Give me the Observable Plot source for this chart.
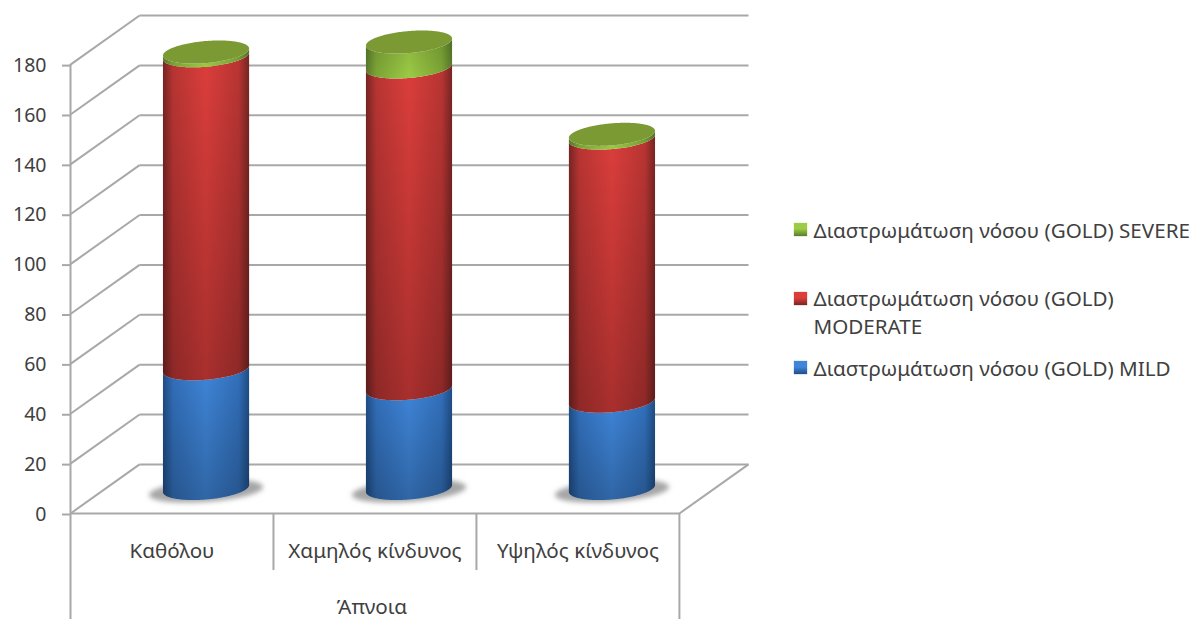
<!DOCTYPE html>
<html>
<head>
<meta charset="utf-8">
<script src="https://cdn.jsdelivr.net/npm/d3@7"></script>
<script src="https://cdn.jsdelivr.net/npm/@observablehq/plot@0.6"></script>
<style>
  html, body { margin: 0; padding: 0; background: #fff; overflow: hidden; }
  svg { display: block; }
</style>
</head>
<body>
<div id="chart"></div>
<script>
// Stacked cylinders by risk group, all under the shared "Άπνοια" heading.
const categories = ["Καθόλου", "Χαμηλός κίνδυνος", "Υψηλός κίνδυνος"];
const groupLabel = "Άπνοια";
const mild = [48, 40, 35];
const moderate = [125.5, 129, 105.5];
const severe = [1.5, 10, 1.5];
const yTicks = [0, 20, 40, 60, 80, 100, 120, 140, 160, 180];
const legendLabels = [
  "Διαστρωμάτωση νόσου (GOLD) SEVERE",
  "Διαστρωμάτωση νόσου (GOLD)\nMODERATE",
  "Διαστρωμάτωση νόσου (GOLD) MILD"
];

// Oblique projection: one unit of depth shifts a point right and up.
const depthX = 0.3404;
const depthY = 19.69;
const px = (i, depth = 0) => i + depth * depthX;
const py = (v, depth = 0) => v + depth * depthY;

// Cylinder proportions in scale units; the ellipses tilt up to the right.
const radiusX = 0.2122, radiusY = 4.42, tilt = 1.4;
const shadowX = 0.281, shadowY = 4.4, shadowTilt = 1.6;
const sweep = d3.range(0, 97).map(k => (k / 96) * Math.PI);

const frontEdge = (c, v, rx = radiusX, ry = radiusY, sk = tilt) => sweep.map(t => ({
  x: px(c + 0.5 + rx * Math.cos(t), 0.5),
  y: py(v - ry * Math.sin(t) + sk * Math.cos(t), 0.5)
}));
const backEdge = (c, v, rx = radiusX, ry = radiusY, sk = tilt) => sweep.map(t => ({
  x: px(c + 0.5 + rx * Math.cos(t), 0.5),
  y: py(v + ry * Math.sin(t) + sk * Math.cos(t), 0.5)
}));

// A closed ellipse as a filled band between its two halves.
function ellipseMark(c, v, options, rx, ry, sk) {
  const low = frontEdge(c, v, rx, ry, sk), high = backEdge(c, v, rx, ry, sk);
  const rows = low.map((d, i) => ({x: d.x, y1: d.y, y2: high[i].y}));
  return Plot.areaY(rows, {x: "x", y1: "y1", y2: "y2", ...options});
}

// The curved side of one stacked segment, with its light-from-above shading.
function segmentMarks(c, from, to, gradient, shade) {
  const low = frontEdge(c, from), high = frontEdge(c, to);
  const rows = low.map((d, i) => ({x: d.x, y1: d.y, y2: high[i].y}));
  return [
    Plot.areaY(rows, {x: "x", y1: "y1", y2: "y2", fill: `url(#${gradient})`}),
    Plot.areaY(rows, {x: "x", y1: "y1", y2: "y2", fill: `url(#${shade})`})
  ];
}

function cylinderMarks(c) {
  const a = mild[c], b = a + moderate[c], t = b + severe[c];
  return [
    ...segmentMarks(c, 0, a, "blue", "shadeStrong"),
    ...segmentMarks(c, a, b, "red", "shadeStrong"),
    ...segmentMarks(c, b, t, "green", "shadeNone"),
    ellipseMark(c, t, {fill: "#7b9a33"}, radiusX, radiusY, tilt)
  ];
}

const blurred = (index, scales, values, dimensions, context, next) => {
  const g = next(index, scales, values, dimensions, context);
  g.setAttribute("filter", "url(#soft)");
  return g;
};

function definitions() {
  const defs = d3.create("svg:defs");
  const sides = {
    blue: ["#1f4d85", "#3270bb", "#3f86da"],
    red: ["#772523", "#b93533", "#dc3e3b"],
    green: ["#5a7a2c", "#7da636", "#9ccb45"]
  };
  for (const [id, [edge, mid, lit]] of Object.entries(sides)) {
    const g = defs.append("linearGradient").attr("id", id);
    [[0, edge], [0.12, mid], [0.5, lit], [0.88, mid], [1, edge]].forEach(([o, col]) =>
      g.append("stop").attr("offset", o).attr("stop-color", col));
    const s = defs.append("linearGradient").attr("id", `${id}Swatch`)
      .attr("x2", 0).attr("y2", 1);
    [[0, lit], [0.45, lit], [1, edge]].forEach(([o, col]) =>
      s.append("stop").attr("offset", o).attr("stop-color", col));
  }
  const strong = defs.append("linearGradient").attr("id", "shadeStrong").attr("x2", 0).attr("y2", 1);
  strong.append("stop").attr("offset", 0).attr("stop-color", "#000").attr("stop-opacity", 0);
  strong.append("stop").attr("offset", 1).attr("stop-color", "#000").attr("stop-opacity", 0.24);
  const none = defs.append("linearGradient").attr("id", "shadeNone").attr("x2", 0).attr("y2", 1);
  none.append("stop").attr("offset", 0).attr("stop-color", "#000").attr("stop-opacity", 0.12);
  none.append("stop").attr("offset", 1).attr("stop-color", "#000").attr("stop-opacity", 0);
  defs.append("filter").attr("id", "soft")
    .attr("x", "-10%").attr("y", "-30%").attr("width", "120%").attr("height", "160%")
    .append("feGaussianBlur").attr("stdDeviation", 2.5);
  return defs.node();
}

const gridColor = "#a8a8a8";
const gridWidth = 2;
const textColor = "#404040";
const fontSize = 20.6;
const swatchFills = ["greenSwatch", "redSwatch", "blueSwatch"];
const swatchRows = [214, 283, 352];   // vertical offsets from the frame top
const legendRows = [213.5, 295.5, 351.5];

const chart = Plot.plot({
  width: 1195,
  height: 619,
  marginLeft: 70,
  marginRight: 447,
  marginTop: 15,
  marginBottom: 106,
  x: {domain: [0, categories.length + depthX], axis: null},
  y: {domain: [0, py(180, 1)]},
  style: {background: "#fff", fontFamily: "'Noto Sans', sans-serif", overflow: "visible"},
  marks: [
    definitions,

    // Back wall and side wall gridlines
    Plot.link(yTicks, {x1: px(0, 1), x2: px(3, 1), y1: d => py(d, 1), y2: d => py(d, 1),
      stroke: gridColor, strokeWidth: gridWidth}),
    Plot.link(yTicks, {x1: px(0), x2: px(0, 1), y1: d => py(d), y2: d => py(d, 1),
      stroke: gridColor, strokeWidth: gridWidth}),

    // Floor edges
    Plot.link([0], {x1: 0, x2: 3, y1: 0, y2: 0, stroke: gridColor, strokeWidth: gridWidth}),
    Plot.link([0], {x1: px(3), x2: px(3, 1), y1: 0, y2: py(0, 1), stroke: gridColor, strokeWidth: gridWidth}),

    // Value axis line and the multi-level category table beneath the floor
    Plot.ruleX([0], {y1: -42.6, y2: 180, stroke: gridColor, strokeWidth: gridWidth}),
    Plot.ruleX([3], {y1: -42.6, y2: 0, stroke: gridColor, strokeWidth: gridWidth}),
    Plot.ruleX([1, 2], {y1: -22.9, y2: 0, stroke: gridColor, strokeWidth: gridWidth}),

    Plot.axisY(yTicks, {
      anchor: "left", label: null, tickSize: 8, tickPadding: 16,
      stroke: gridColor, strokeWidth: gridWidth, color: textColor,
      fontSize: 19.5, tickFormat: d => String(d), dy: 1
    }),

    Plot.text(categories, {x: (d, i) => i + 0.5, y: -15.3, text: d => d, fontSize, fill: textColor}),
    Plot.text([groupLabel], {x: 1.485, y: -37.5, text: d => d, fontSize, fill: textColor}),

    // Contact shadows, then the cylinders themselves
    ...categories.map((_, c) => ellipseMark(c, -1, {fill: "#a6a6a6", render: blurred}, shadowX, shadowY, shadowTilt)),
    ...categories.flatMap((_, c) => cylinderMarks(c)),

    // Legend on the right of the plot
    ...legendLabels.map((label, i) => Plot.dot([label], {
      frameAnchor: "top-left", dx: 730, dy: swatchRows[i],
      symbol: "square", r: 7.5, fill: `url(#${swatchFills[i]})`
    })),
    ...legendLabels.map((label, i) => Plot.text([label], {
      frameAnchor: "top-left", dx: 743, dy: legendRows[i],
      text: d => d, lineAnchor: "middle", textAnchor: "start",
      fontSize, fill: textColor, lineHeight: 1.37
    }))
  ]
});

document.getElementById("chart").append(chart);
</script>
</body>
</html>
